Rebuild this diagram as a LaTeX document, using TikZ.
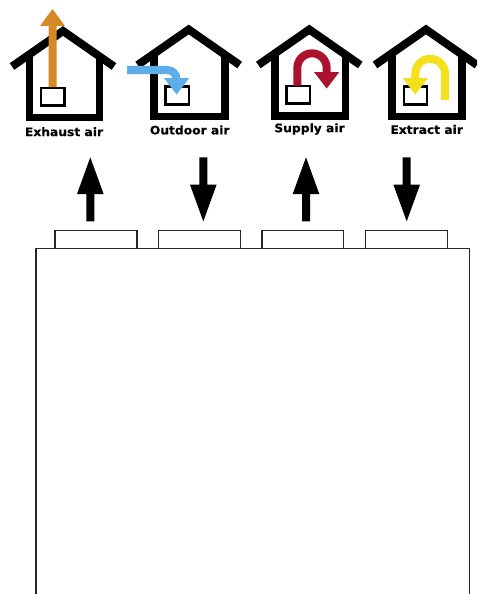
\documentclass[tikz,border=0pt]{standalone}
\usepackage{fontspec}
\setmainfont[BoldFeatures={FakeBold=0.5}]{DejaVu Sans}
\definecolor{exhaustc}{HTML}{D68A26}
\definecolor{outdoorc}{HTML}{5FADE8}
\definecolor{supplyc}{HTML}{AB122E}
\definecolor{extractc}{HTML}{F5E01C}
\tikzset{
  roofline/.style={line width=8pt,black,line join=miter},
  wallline/.style={line width=7.8pt,black,line join=miter},
  unitbox/.style={draw=black,line width=2.2pt,fill=white},
  airflow/.style={line width=8pt},
  portbox/.style={draw=black!85,line width=1.2pt,fill=white},
  caseline/.style={draw=black!85,line width=1.2pt},
  airlabel/.style={inner sep=0pt,xscale=1.05,font=\bfseries\fontsize{11.7}{12}\selectfont},
}
% house: apex x, apex y, left wall centre, right wall centre, floor centre
\newcommand{\drawhouse}[5]{%
  \draw[wallline] (#3,#2+28) -- (#3,#5) -- (#4,#5) -- (#4,#2+28);
  \draw[roofline] (#1-51,#2+39.5) -- (#1,#2+4) -- (#1+51,#2+39.5);
}
% straight block arrow: x, tail y, head-base y, tip y
\newcommand{\blockarrow}[4]{%
  \fill[black] (#1-4,#2) -- (#1-4,#3) -- (#1-13.3,#3) -- (#1,#4) -- (#1+13.3,#3) -- (#1+4,#3) -- (#1+4,#2) -- cycle;
}
\begin{document}
\begin{tikzpicture}[x=1pt,y=-1pt]
\useasboundingbox (0,0) rectangle (477,594);
\clip (0,0) rectangle (477,594);
\fill[white] (0,0) rectangle (477,594);
% houses
\drawhouse{63}{27}{29.5}{99.5}{117.4}
\drawhouse{188.7}{25.5}{154}{224.6}{116.4}
\drawhouse{309.3}{25.5}{274.8}{345.4}{115.6}
\drawhouse{426}{25.5}{392}{462}{116.4}
% unit boxes
\draw[unitbox] (41,88) rectangle (64.5,105.5);
\draw[unitbox] (165.5,86.5) rectangle (189,104.5);
\draw[unitbox] (286.4,86) rectangle (309.8,103.5);
\draw[unitbox] (403.8,86.5) rectangle (427,104.5);
% exhaust
\fill[exhaustc] (48.5,87) -- (48.5,26) -- (40,26) -- (52.5,9) -- (65,26) -- (56.5,26) -- (56.5,87) -- cycle;
% outdoor
\draw[airflow,outdoorc] (127,70) -- (167,70) .. controls (172.5,70) and (176.7,74) .. (176.7,80);
\fill[outdoorc] (164,78) -- (189.3,78) -- (176.7,94.5) -- cycle;
% supply
\draw[airflow,supplyc] (297.3,85.5) -- (297.3,68) arc[start angle=180,end angle=360,radius=14.7] -- (326.7,74);
\fill[supplyc] (314,72) -- (339.3,72) -- (326.7,88.5) -- cycle;
% extract
\draw[airflow,extractc] (445,100) -- (445,73.7) arc[start angle=0,end angle=-180,radius=14.85] -- (415.3,80);
\fill[extractc] (402.7,78) -- (428,78) -- (415.3,94.5) -- cycle;
% labels
\node[airlabel] (exhaustlabel) at (64,131.7) {Exhaust air};
\node[airlabel] (outdoorlabel) at (189.7,130) {Outdoor air};
\node[airlabel] (supplylabel) at (309.5,129) {Supply air};
\node[airlabel] (extractlabel) at (426.7,129.5) {Extract air};
% black arrows
\blockarrow{90.3}{221.3}{194}{157.3}
\blockarrow{203.3}{157.3}{184.7}{221.3}
\blockarrow{306}{221.3}{194}{157.3}
\blockarrow{406.7}{157.3}{184.7}{221.3}
% casing
\draw[caseline] (36,594) -- (36,248.3) -- (469.6,248.3) -- (469.6,594);
\draw[portbox] (55,230.6) rectangle (137,248.4);
\draw[portbox] (158.5,230.6) rectangle (240.3,248.4);
\draw[portbox] (261.9,230.6) rectangle (343.7,248.4);
\draw[portbox] (365.8,230.6) rectangle (447.6,248.4);
\end{tikzpicture}
\end{document}
